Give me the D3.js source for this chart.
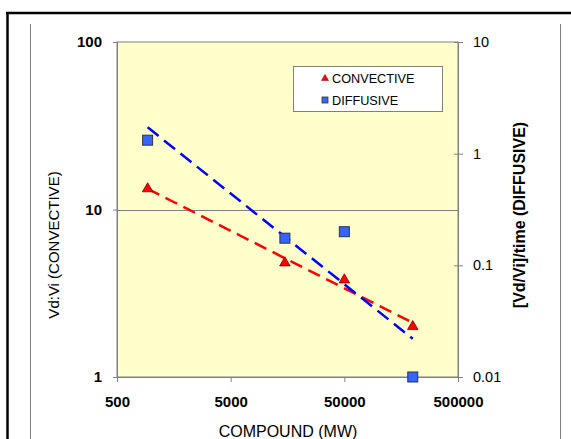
<!DOCTYPE html>
<html>
<head>
<meta charset="utf-8">
<script src="https://cdn.jsdelivr.net/npm/d3@7"></script>
<style>
  html, body { margin: 0; padding: 0; background: #fff; }
  svg { display: block; font-family: "Liberation Sans", Arial, sans-serif; }
</style>
</head>
<body>
<svg id="chart" width="571" height="439"></svg>
<script>
// ---- data ----
const compoundMW = [930, 15000, 50000, 200000];
const convective = [13.3, 4.8, 3.8, 2.0];        // left axis
const diffusive  = [1.32, 0.175, 0.20, 0.01];    // right axis
const xTicks = [500, 5000, 50000, 500000];
const yLeftTicks = [1, 10, 100];
const yRightTicks = [0.01, 0.1, 1, 10];
const seriesNames = ["CONVECTIVE", "DIFFUSIVE"];

const svg = d3.select("#chart");
const L = 117, R = 458, T = 42, B = 377;

// frame
svg.append("line").attr("x1", 7.5).attr("x2", 7.5).attr("y1", 12).attr("y2", 439).attr("stroke", "#000").attr("stroke-width", 2.5);
svg.append("line").attr("x1", 6).attr("x2", 571).attr("y1", 13).attr("y2", 13).attr("stroke", "#000").attr("stroke-width", 2.5);
svg.append("line").attr("x1", 30.5).attr("x2", 30.5).attr("y1", 24).attr("y2", 439).attr("stroke", "#808080").attr("stroke-width", 1);
svg.append("line").attr("x1", 560.5).attr("x2", 560.5).attr("y1", 24).attr("y2", 439).attr("stroke", "#808080").attr("stroke-width", 1);

const x = d3.scaleLog().domain([500, 500000]).range([L, R]);
const yL = d3.scaleLog().domain([1, 100]).range([B, T]);
const yR = d3.scaleLog().domain([0.01, 10]).range([B, T]);

// plot area
svg.append("rect").attr("x", L).attr("y", T).attr("width", R - L).attr("height", B - T)
  .attr("fill", "#ffffcc").attr("stroke", "#808080").attr("stroke-width", 1);

// gridline at 10
svg.append("line").attr("x1", L).attr("x2", R).attr("y1", Math.round(yL(10)) + 0.5).attr("y2", Math.round(yL(10)) + 0.5)
  .attr("stroke", "#808080").attr("stroke-width", 1);

// axes
const gx = svg.append("g").attr("transform", `translate(0,${B})`)
  .call(d3.axisBottom(x).tickValues(xTicks).tickFormat(d3.format("d")).tickSize(5).tickPadding(14));
const gl = svg.append("g").attr("transform", `translate(${L},0)`)
  .call(d3.axisLeft(yL).tickValues(yLeftTicks).tickFormat(d3.format("d")).tickSize(4).tickPadding(11));
const gr = svg.append("g").attr("transform", `translate(${R},0)`)
  .call(d3.axisRight(yR).tickValues(yRightTicks).tickFormat(d => String(d)).tickSize(5).tickPadding(10));
[gx, gl, gr].forEach(g => {
  g.select(".domain").attr("stroke", "#808080");
  g.selectAll(".tick line").attr("stroke", "#808080");
  g.selectAll(".tick text").attr("fill", "#000").attr("font-size", 15)
    .attr("font-family", "'Liberation Sans', Arial, sans-serif");
});
gx.selectAll(".tick text").attr("font-weight", "bold");
gl.selectAll(".tick text").attr("font-weight", "bold");
gr.selectAll(".tick text").attr("font-size", 14.5);
gr.selectAll(".tick line").attr("x1", -4);

// axis titles
svg.append("text").attr("transform", "translate(58.5,245) rotate(-90)").attr("text-anchor", "middle")
  .attr("font-size", 15).text("Vd:Vi (CONVECTIVE)");
svg.append("text").attr("transform", "translate(525,215) rotate(-90)").attr("text-anchor", "middle")
  .attr("font-size", 16).attr("font-weight", "bold").text("[Vd/Vi]/time (DIFFUSIVE)");
svg.append("text").attr("x", 288).attr("y", 437).attr("text-anchor", "middle")
  .attr("font-size", 16).text("COMPOUND (MW)");

// power trendline (least squares in log-log space)
function powerFit(xs, ys) {
  const lx = xs.map(Math.log10), ly = ys.map(Math.log10);
  const mx = d3.mean(lx), my = d3.mean(ly);
  const b = d3.sum(lx.map((v, i) => (v - mx) * (ly[i] - my))) / d3.sum(lx.map(v => (v - mx) ** 2));
  const a = my - b * mx;
  return xv => Math.pow(10, a + b * Math.log10(xv));
}
const xr = d3.extent(compoundMW);
const fC = powerFit(compoundMW, convective);
const fD = powerFit(compoundMW, diffusive);
const samples = d3.range(0, 21).map(i => Math.pow(10, Math.log10(xr[0]) + i / 20 * (Math.log10(xr[1]) - Math.log10(xr[0]))));

svg.append("path").datum(samples)
  .attr("d", d3.line().x(d => x(d)).y(d => yL(fC(d))))
  .attr("fill", "none").attr("stroke", "#ff0000").attr("stroke-width", 2.5).attr("stroke-dasharray", "13,7");
svg.append("path").datum(samples)
  .attr("d", d3.line().x(d => x(d)).y(d => yR(fD(d))))
  .attr("fill", "none").attr("stroke", "#0000ff").attr("stroke-width", 2.5).attr("stroke-dasharray", "14,7");

// markers
const tri = d3.symbol().type(d3.symbolTriangle).size(48);
svg.append("g").selectAll("path").data(compoundMW).join("path")
  .attr("transform", (d, i) => `translate(${x(d)},${yL(convective[i])})`)
  .attr("d", tri).attr("fill", "#ff0000").attr("stroke", "#800000").attr("stroke-width", 0.8);
svg.append("g").selectAll("rect").data(compoundMW).join("rect")
  .attr("x", d => x(d) - 5).attr("y", (d, i) => yR(diffusive[i]) - 5)
  .attr("width", 10).attr("height", 10)
  .attr("fill", "#3366ff").attr("stroke", "#333333").attr("stroke-width", 1);

// legend
const lg = svg.append("g");
lg.append("rect").attr("x", 293.5).attr("y", 66.5).attr("width", 149).attr("height", 45)
  .attr("fill", "#fff").attr("stroke", "#808080").attr("stroke-width", 1);
lg.append("path").attr("transform", "translate(325,78.5)").attr("d", d3.symbol().type(d3.symbolTriangle).size(22))
  .attr("fill", "#ff0000").attr("stroke", "#800000").attr("stroke-width", 0.5);
lg.append("rect").attr("x", 322).attr("y", 97).attr("width", 6).attr("height", 6)
  .attr("fill", "#3366ff").attr("stroke", "#333").attr("stroke-width", 0.8);
lg.append("text").attr("x", 332).attr("y", 82.5).attr("font-size", 12.7).text(seriesNames[0]);
lg.append("text").attr("x", 332).attr("y", 104.5).attr("font-size", 12.7).text(seriesNames[1]);
</script>
</body>
</html>
